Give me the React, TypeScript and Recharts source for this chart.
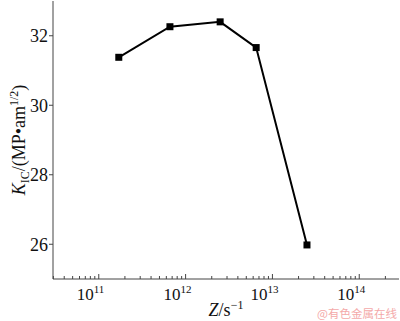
import { LineChart, Line, XAxis, YAxis } from 'recharts';

// strain rate Z (s^-1) vs fracture toughness K_IC
const zRate = [1.7e11, 6.6e11, 2.5e12, 6.5e12, 2.5e13];
const kIc = [31.38, 32.26, 32.4, 31.66, 25.98];

const xMajor = [1e11, 1e12, 1e13, 1e14];
const yTicks = [26, 28, 30, 32];
const xDomain: [number, number] = [2.97e10, 2.87e14];
const yDomain: [number, number] = [25, 33];

const mantissas = [2, 3, 4, 5, 6, 7, 8, 9];
const decades = [1e10, 1e11, 1e12, 1e13, 1e14];
const xMinor = decades
  .flatMap((d) => mantissas.map((m) => m * d))
  .filter((v) => v > xDomain[0] && v < xDomain[1]);

const data = zRate.map((z, i) => ({ z, k: kIc[i] }));

const AXIS = '#444';
const FONT = '"Liberation Serif", "Times New Roman", serif';

function XTick(props: any) {
  const { x, y, payload } = props;
  const v = payload.value;
  const major = xMajor.includes(v);
  const exp = Math.round(Math.log10(v));
  return (
    <g>
      <line x1={x} x2={x} y1={y} y2={y - (major ? 5 : 3)} stroke={AXIS} strokeWidth={1} />
      {major && (
        <text x={x - 22} y={y + 20.5} fontSize={17} fill="#111" fontFamily={FONT}>
          10
          <tspan dy={-7} fontSize={11}>
            {exp}
          </tspan>
        </text>
      )}
    </g>
  );
}

function Square(props: any) {
  const { cx, cy, index } = props;
  return <rect key={index} x={cx - 3.5} y={cy - 3.5} width={7} height={7} fill="#000" />;
}

export default function App() {
  return (
    <div style={{ position: 'absolute', left: 0, top: 0, width: 400, height: 321, background: '#fff' }}>
      <style>{'body{margin:0}'}</style>
      <LineChart
        width={400}
        height={321}
        data={data}
        margin={{ top: 1, right: 1, left: 0, bottom: 0 }}
        style={{ fontFamily: FONT }}
      >
        <XAxis
          dataKey="z"
          type="number"
          scale="log"
          domain={xDomain}
          allowDataOverflow
          ticks={[...xMajor, ...xMinor].sort((a, b) => a - b)}
          interval={0}
          tick={<XTick />}
          tickLine={false}
          tickSize={0}
          tickMargin={0}
          height={42}
          stroke={AXIS}
          label={{
            content: (p: any) => {
              const vb = p.viewBox;
              return (
                <text x={vb.x + vb.width / 2} y={vb.y + 37} textAnchor="middle" fontSize={18} fill="#111" fontFamily={FONT}>
                  <tspan fontStyle="italic">Z</tspan>/s
                  <tspan dy={-7} fontSize={12}>−1</tspan>
                </text>
              );
            },
          }}
        />
        <XAxis xAxisId="top" orientation="top" type="number" domain={[0, 1]} height={0} tick={false} tickLine={false} stroke={AXIS} />
        <YAxis
          type="number"
          domain={yDomain}
          ticks={yTicks}
          width={53}
          tickSize={4}
          tickMargin={1}
          stroke={AXIS}
          tick={{ fontSize: 18, fill: '#111', fontFamily: FONT }}
          label={{
            content: () => (
              <text transform="translate(25,140) rotate(-90)" textAnchor="middle" fontSize={18} fill="#111" fontFamily={FONT}>
                <tspan fontStyle="italic">K</tspan>
                <tspan dy={4} fontSize={12}>IC</tspan>
                <tspan dy={-4}>/(MP•am</tspan>
                <tspan dy={-7} fontSize={12}>1/2</tspan>
                <tspan dy={7}>)</tspan>
              </text>
            ),
          }}
        />
        <YAxis yAxisId="right" orientation="right" type="number" domain={[0, 1]} width={0} tick={false} tickLine={false} stroke={AXIS} />
        <Line
          dataKey="k"
          stroke="#000"
          strokeWidth={2}
          dot={<Square />}
          activeDot={false}
          isAnimationActive={false}
        />
        <text x={397} y={317.5} textAnchor="end" fontSize={11.5} fill="#f4a9a9" fontFamily='"Noto Sans CJK SC", sans-serif'>
          @有色金属在线
        </text>
      </LineChart>
    </div>
  );
}
